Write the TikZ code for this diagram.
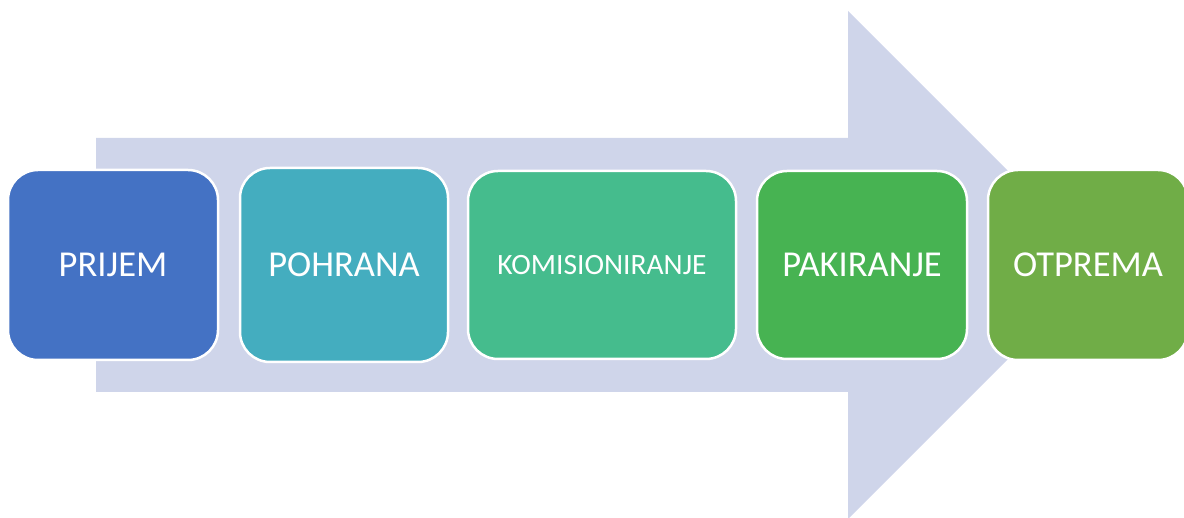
\documentclass[tikz,border=0pt]{standalone}
\usepackage{fontspec}
\setmainfont{Carlito}
\definecolor{arrowc}{HTML}{CFD5EA}
\definecolor{c1}{HTML}{4472C4}
\definecolor{c2}{HTML}{44ADBF}
\definecolor{c3}{HTML}{45BC8D}
\definecolor{c4}{HTML}{47B352}
\definecolor{c5}{HTML}{70AD47}
\begin{document}
\begin{tikzpicture}[x=1pt,y=-1pt,
  stepbox/.style={draw=white,line width=2.5pt,rounded corners=30pt,text=white,inner sep=0pt}]
\useasboundingbox (0,0) rectangle (1184,518);
\fill[arrowc] (96,138) -- (848,138) -- (848,11) -- (1102,265) -- (848,519) -- (848,392) -- (96,392) -- cycle;
\node[stepbox,fill=c1,minimum width=210pt,minimum height=190pt,font=\fontsize{36.5}{36.5}\selectfont] (prijem) at (113,265) {PRIJEM};
\node[stepbox,fill=c2,minimum width=208pt,minimum height=194pt,font=\fontsize{36.5}{36.5}\selectfont] (pohrana) at (344,265) {POHRANA};
\node[stepbox,fill=c3,minimum width=268pt,minimum height=188pt,font=\fontsize{29.5}{29.5}\selectfont] (komis) at (602,265) {KOMISIONIRANJE};
\node[stepbox,fill=c4,minimum width=210pt,minimum height=188pt,font=\fontsize{36.5}{36.5}\selectfont] (pakiranje) at (862,265) {PAKIRANJE};
\node[stepbox,fill=c5,minimum width=200pt,minimum height=190pt,font=\fontsize{36.5}{36.5}\selectfont] (otprema) at (1088,265) {OTPREMA};
\end{tikzpicture}
\end{document}
